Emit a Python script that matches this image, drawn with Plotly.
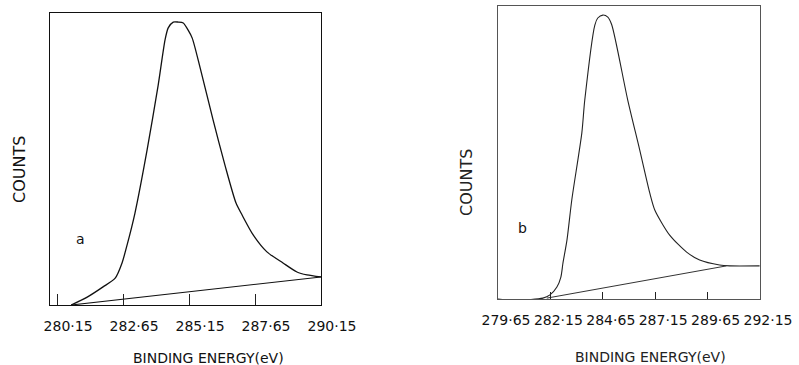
import plotly.graph_objects as go

# ---- Panel a data (binding energy eV, relative counts) ----
a_energy = [280.68, 281.29, 281.89, 282.35, 282.61, 282.80, 283.10, 283.56, 283.98, 284.24,
            284.36, 284.55, 284.74, 284.93, 285.11, 285.27, 285.57, 286.06, 286.51, 286.93,
            287.16, 287.58, 288.10, 288.71, 289.24, 289.62, 290.15]
a_counts = [0.0, 2.7, 6.2, 9.2, 14.4, 20.5, 31.5, 53.1, 75.3, 90.8,
            94.9, 96.9, 96.9, 96.6, 94.2, 91.4, 81.2, 63.4, 47.9, 34.9,
            30.8, 24.0, 18.2, 14.4, 11.3, 10.3, 9.6]
a_base_energy = [280.68, 290.15]
a_base_counts = [0.0, 9.6]
a_ticks = [280.15, 282.65, 285.15, 287.65, 290.15]
a_ticktext = ["280·15", "282·65", "285·15", "287·65", "290·15"]

# ---- Panel b data ----
b_energy = [279.65, 280.36, 281.79, 282.13, 282.46, 282.65, 282.75, 282.94, 283.17, 283.65,
            283.79, 284.27, 284.41, 284.65, 284.89, 285.08, 285.84, 286.41, 286.89, 287.13,
            287.84, 288.65, 289.27, 290.22, 290.70, 292.13]
b_counts = [0.0, -0.5, 0.3, 1.4, 4.1, 7.5, 12.3, 20.1, 33.8, 56.7,
            67.9, 93.5, 95.9, 96.9, 96.2, 93.5, 67.9, 50.9, 36.2, 30.4,
            21.8, 16.0, 13.3, 11.6, 11.3, 11.3]
b_base_energy = [281.98, 290.55]
b_base_counts = [0.3, 11.3]
b_ticks = [279.65, 282.15, 284.65, 287.15, 289.65, 292.15]
b_ticktext = ["279·65", "282·15", "284·65", "287·15", "289·65", "292·15"]

FONT = "DejaVu Sans"
fig = go.Figure()

fig.add_trace(go.Scatter(x=a_energy, y=a_counts, mode="lines", xaxis="x", yaxis="y",
                         line=dict(color="#111", width=1.3, shape="spline", smoothing=0.7),
                         showlegend=False, hoverinfo="skip"))
fig.add_trace(go.Scatter(x=a_base_energy, y=a_base_counts, mode="lines", xaxis="x", yaxis="y",
                         line=dict(color="#111", width=1.1), showlegend=False, hoverinfo="skip"))
fig.add_trace(go.Scatter(x=b_energy, y=b_counts, mode="lines", xaxis="x2", yaxis="y2",
                         line=dict(color="#222", width=1.1, shape="spline", smoothing=0.7),
                         showlegend=False, hoverinfo="skip"))
fig.add_trace(go.Scatter(x=b_base_energy, y=b_base_counts, mode="lines", xaxis="x2", yaxis="y2",
                         line=dict(color="#333", width=1.0), showlegend=False, hoverinfo="skip"))

common_x = dict(showgrid=False, zeroline=False, showline=True, mirror=True, ticks="inside",
                tickcolor="#222", tickwidth=1, tickfont=dict(family=FONT, size=14, color="#111"),
                ticklabelstandoff=8, tickangle=0, automargin=False)
common_y = dict(showgrid=False, zeroline=False, showline=True, mirror=True, showticklabels=False,
                ticks="", range=[0, 100], automargin=False)

def ann(text, x, y, size, color, angle=0, xref="paper", yref="paper"):
    return dict(text=text, x=x, y=y, xref=xref, yref=yref, showarrow=False, textangle=angle,
                xanchor="center", yanchor="middle", font=dict(family=FONT, size=size, color=color))

fig.update_layout(
    width=799, height=365,
    margin=dict(l=0, r=0, t=0, b=0, autoexpand=False),
    paper_bgcolor="white", plot_bgcolor="white",
    xaxis=dict(domain=[50/799, 321/799], range=[279.88, 290.15], tickvals=a_ticks,
               ticktext=a_ticktext, ticklen=11, linecolor="#111", linewidth=1,
               ticklabelshift=11, anchor="y", **common_x),
    yaxis=dict(domain=[1-305/365, 1-13/365], anchor="x", linecolor="#111", linewidth=1, **common_y),
    xaxis2=dict(domain=[498/799, 760/799], range=[279.65, 292.15], tickvals=b_ticks,
                ticktext=b_ticktext, ticklen=7, linecolor="#555", linewidth=1,
                ticklabelshift=8, anchor="y2", **common_x),
    yaxis2=dict(domain=[1-299/365, 1-6/365], anchor="x2", linecolor="#555", linewidth=1, **common_y),
    annotations=[
        ann("COUNTS", 19/799, 1-170/365, 16, "#111", angle=-90),
        ann("COUNTS", 466/799, 1-183/365, 16, "#222", angle=-90),
        ann("BINDING ENERGY(eV)", 208/799, 1-358/365, 14, "#111"),
        ann("BINDING ENERGY(eV)", 650/799, 1-357/365, 14, "#222"),
        ann("a", 281.02, 22.6, 14, "#111", xref="x", yref="y"),
        ann("b", 280.84, 24.2, 14, "#111", xref="x2", yref="y2"),
    ],
)

fig.write_html("out.html")
